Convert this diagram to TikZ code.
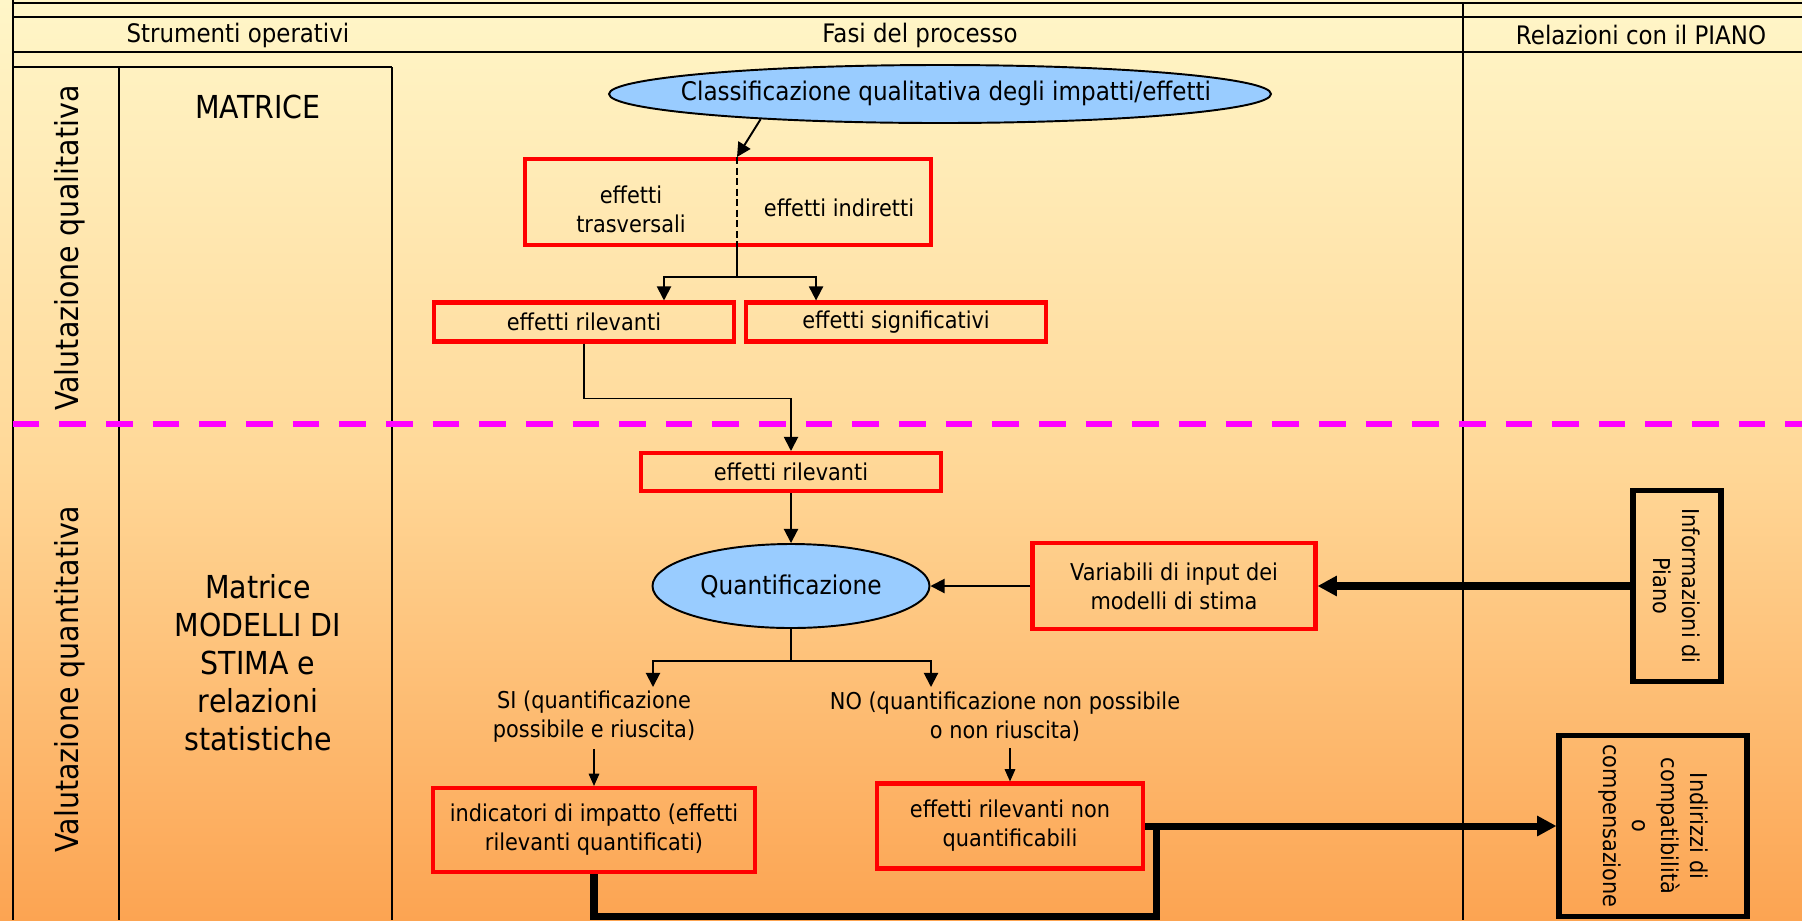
\documentclass[tikz,border=0pt]{standalone}
\usepackage{fontspec}
\setmainfont{DejaVu Sans}[FakeStretch=0.9]
\usetikzlibrary{arrows.meta,positioning,shapes.geometric}
\definecolor{bgtop}{RGB}{255,246,200}
\definecolor{bgmid}{RGB}{255,216,152}
\definecolor{bgbot}{RGB}{252,164,82}
\definecolor{ovalblue}{RGB}{153,204,255}
\definecolor{sepmagenta}{RGB}{255,0,255}

\begin{document}
\begin{tikzpicture}[x=0.2mm,y=-0.2mm,>={Triangle[length=8pt,width=8pt]},
  rule/.style={line width=1.1pt},
  divide/.style={draw=sepmagenta,line width=3.8pt,dash pattern=on 5.33mm off 4mm},
  hdr/.style={font=\fontsize{14.5}{17}\selectfont},
  lab/.style={font=\fontsize{18}{21.6}\selectfont,align=center},
  txt/.style={font=\fontsize{13.2}{16.5}\selectfont,align=center},
  redbox/.style={txt,draw=red,line width=2.3pt,inner sep=0pt},
  oval/.style={ellipse,draw,fill=ovalblue,line width=1.1pt,inner sep=0pt},
  planbox/.style={txt,draw,line width=2.9pt,inner sep=0pt,rotate=-90},
  flow/.style={->,line width=1.1pt},
  drop/.style={-{Triangle[length=7pt,width=6pt]},line width=0.85pt},
  heavy/.style={line width=4pt},
  heavyarrow/.style={heavy,-{Triangle[length=11pt,width=11pt]}}]
  \useasboundingbox (0,0) rectangle (1802,920);
  \shade[top color=bgtop,bottom color=bgbot,middle color=bgmid] (0,0) rectangle (1802,920);
  % table frame
  \draw[rule] (12.7,0) -- (12.7,920);
  \foreach \y in {3,17,52}
    \draw[rule] (12.7,\y) -- (1802,\y);
  \draw[rule] (1463,3) -- (1463,920);
  \draw[rule] (12.7,67) -- (392,67) (119,67) -- (119,920) (392,67) -- (392,920);
  \draw[divide] (12.7,424) -- (1802,424);

  \node[hdr] (hstr) at (238,35) {Strumenti operativi};
  \node[hdr] (hfasi) at (920,35) {Fasi del processo};
  \node[hdr] (hrel) at (1641,35) {Relazioni con il PIANO};

  \node[lab,rotate=90] (vqual) at (70,248) {Valutazione qualitativa};
  \node[lab,rotate=90] (vquant) at (70,679) {Valutazione quantitativa};
  \node[lab] (mat) at (258,107) {MATRICE};
  \node[lab] (matmod) at (258,663) {Matrice\\MODELLI DI\\STIMA e\\relazioni\\statistiche};

  % qualitative phase
  \node[oval,minimum width=132.4mm,minimum height=11.6mm] (cls) at (940,94) {};
  \node[font=\fontsize{14.6}{17}\selectfont] (clstext) at (946,93) {Classificazione qualitativa degli impatti/effetti};
  \node[redbox,minimum width=81.2mm,minimum height=17.2mm] (trasv) at (728,202) {};
  \node[txt] (trasvl) at (631,209) {effetti\\trasversali};
  \node[txt] (trasvr) at (839,208) {effetti indiretti};
  \node[redbox,minimum width=60mm,minimum height=7.8mm] (ril1) at (584,322) {effetti rilevanti};
  \node[redbox,minimum width=60mm,minimum height=7.8mm,right=1.6mm of ril1] (sig) {effetti significativi};
  \coordinate (split) at (737,277);
  \draw[flow] (cls.188) -- (split |- trasv.north);
  \draw[line width=1.1pt,dash pattern=on 4pt off 2pt] (split |- trasv.north) -- (split |- trasv.south);
  \draw[rule] (split |- trasv.south) -- (split);
  \draw[flow] (split) -| ([xshift=16mm]ril1.north);
  \draw[flow] (split) -| ([xshift=-16mm]sig.north);

  % quantitative phase
  \node[redbox,minimum width=60mm,minimum height=7.6mm] (ril2) at (791,472) {effetti rilevanti};
  \draw[flow] (ril1.south) -- ++(0,55) -| (ril2.north);
  \node[oval,minimum width=55.4mm,minimum height=16.8mm,font=\fontsize{14.7}{17}\selectfont] (quant) at (791,586) {Quantificazione};
  \node[redbox,minimum width=56.6mm,minimum height=17.2mm] (varb) at (1174,586) {Variabili di input dei\\modelli di stima};
  \node[planbox,minimum width=38.2mm,minimum height=17.6mm] (info) at (1677,586) {Informazioni di\\Piano};
  \path[flow] (ril2) edge (quant)
    (varb) edge (quant);
  \draw[heavyarrow] (info.south) -- (varb.east);

  \coordinate (qsplit) at (791,661);
  \coordinate (siend) at (653,687);
  \coordinate (noend) at (931,687);
  \draw[rule] (quant.south) -- (qsplit);
  \draw[flow] (qsplit) -| (siend);
  \draw[flow] (qsplit) -| (noend);
  \node[txt] (sitxt) at (594,717) {SI (quantificazione\\possibile e riuscita)};
  \node[txt] (notxt) at (1005,717) {NO (quantificazione non possibile\\o non riuscita)};
  \node[redbox,minimum width=64.4mm,minimum height=16.8mm] (indic) at (594,830) {indicatori di impatto (effetti\\rilevanti quantificati)};
  \node[redbox,minimum width=53.2mm,minimum height=17mm] (nonq) at (1010,826) {effetti rilevanti non\\quantificabili};
  \node[planbox,minimum width=36.2mm,minimum height=37.6mm] (indir) at (1653,826) {Indirizzi di\\compatibilità\\o\\compensazione};
  \draw[drop] (sitxt) -- (indic);
  \draw[drop] (notxt.south -| nonq.north) -- (nonq.north);

  \coordinate (loop) at (1156,916);
  \draw[heavy] (indic.south) |- (loop) -- (loop |- nonq.east);
  \draw[heavyarrow] (nonq.east) -- (indir.south);
\end{tikzpicture}
\end{document}
